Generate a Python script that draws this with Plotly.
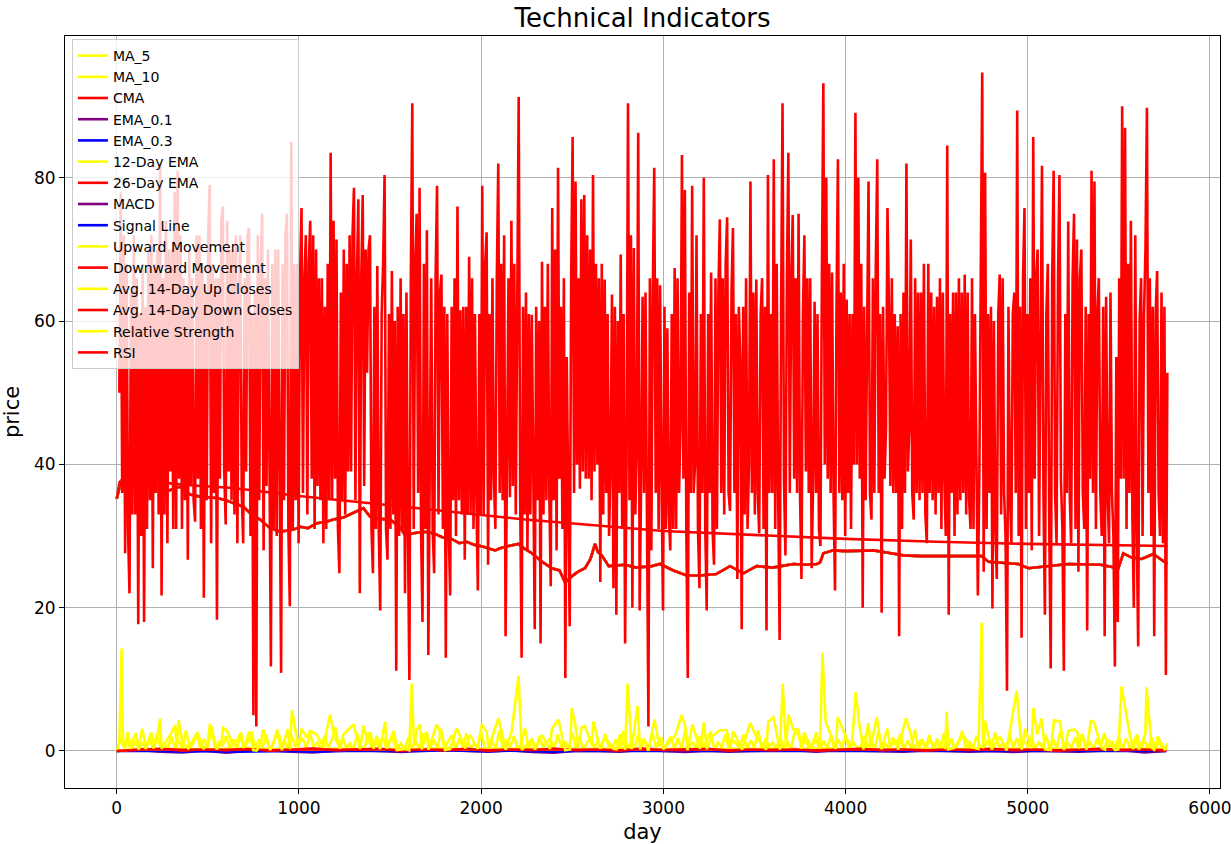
import plotly.graph_objects as go

# ---- price trend (moving averages / EMAs follow the same path) ----
trend_day = [0, 15, 30, 45, 80, 120, 183, 240, 292, 347, 402, 457, 549, 600, 640, 695, 740, 787,
             842, 896, 970, 1007, 1050, 1098, 1150, 1189, 1244, 1280, 1354, 1390, 1440, 1500,
             1555, 1583, 1628, 1690, 1738, 1790, 1830, 1880, 1921, 1960, 2012, 2077, 2104, 2150,
             2205, 2240, 2278, 2330, 2388, 2430, 2461, 2488, 2530, 2570, 2600, 2625, 2640, 2662,
             2700, 2790, 2850, 2936, 2982, 3055, 3128, 3200, 3290, 3366, 3439, 3512, 3600, 3714,
             3780, 3842, 3860, 3878, 3933, 4000, 4153, 4250, 4317, 4420, 4518, 4747, 4784, 4948,
             5003, 5100, 5223, 5400, 5497, 5524, 5570, 5625, 5689, 5766]
trend_val = [35.2, 36.8, 37.8, 38.0, 37.5, 37.2, 37.1, 36.5, 36.4, 36.9, 35.8, 35.5, 35.3, 35.0,
             34.6, 34.1, 33.0, 32.3, 31.1, 30.6, 30.9, 31.3, 31.1, 31.8, 32.0, 32.3, 32.6, 33.0,
             33.9, 32.7, 32.4, 32.3, 31.2, 30.1, 30.4, 30.6, 30.4, 29.8, 29.7, 29.0, 29.2, 28.8,
             28.5, 28.0, 28.3, 28.6, 28.9, 28.2, 27.6, 26.5, 25.5, 25.2, 23.5, 24.2, 25.0, 25.5,
             26.8, 28.9, 27.8, 27.3, 25.8, 26.0, 25.6, 25.8, 26.1, 25.2, 24.5, 24.5, 24.7, 25.8,
             24.8, 25.8, 25.6, 26.1, 26.0, 26.1, 26.3, 27.6, 28.0, 27.9, 28.0, 27.6, 27.3, 27.2,
             27.2, 27.2, 26.4, 26.1, 25.5, 25.8, 26.1, 26.0, 25.5, 27.6, 27.0, 26.8, 27.5, 26.1]

# ---- cumulative moving average ----
cma_day = [0, 15, 40, 80, 200, 400, 640, 1000, 1500, 2100, 2240, 3000, 3500, 4000, 4500, 5000, 5766]
cma_val = [35.2, 37.5, 38.2, 38.1, 37.6, 37.1, 36.7, 35.6, 34.3, 32.7, 32.3, 30.7, 30.1, 29.6,
           29.2, 28.9, 28.6]

# ---- small oscillators sampled on a coarse grid (every 120 days) ----
flow_day = list(range(0, 5761, 120))
macd = [0.0, 0.15, -0.1, -0.2, 0.05, -0.25, 0.0, 0.1, -0.1, -0.2, 0.05, 0.1, 0.0, -0.15, 0.05,
        0.15, 0.0, -0.1, 0.1, -0.15, -0.25, 0.05, 0.0, -0.1, 0.15, 0.0, -0.15, 0.05, -0.1, 0.0,
        0.05, 0.1, -0.1, 0.15, 0.05, 0.0, -0.1, 0.1, 0.0, -0.1, 0.0, -0.15, 0.05, 0.0, -0.1, 0.05,
        0.1, -0.2, 0.0]
signal_line = [0.0, 0.05, 0.0, -0.1, 0.0, -0.1, -0.05, 0.05, 0.0, -0.1, 0.0, 0.05, 0.0, -0.05,
               0.0, 0.1, 0.0, -0.05, 0.05, -0.05, -0.1, 0.0, 0.0, -0.05, 0.05, 0.0, -0.05, 0.0,
               -0.05, 0.0, 0.0, 0.05, 0.0, 0.05, 0.0, 0.0, -0.05, 0.05, 0.0, -0.05, 0.0, -0.05,
               0.0, 0.0, -0.05, 0.0, 0.05, -0.05, 0.0]
down_move = [0.0, 0.15, 0.3, 0.05, 0.25, 0.1, 0.3, 0.05, 0.2, 0.35, 0.1, 0.15, 0.3, 0.05, 0.25,
             0.1, 0.3, 0.05, 0.2, 0.15, 0.3, 0.1, 0.25, 0.05, 0.35, 0.15, 0.1, 0.3, 0.05, 0.2, 0.1,
             0.25, 0.05, 0.15, 0.3, 0.1, 0.2, 0.05, 0.25, 0.15, 0.3, 0.1, 0.2, 0.05, 0.15, 0.3, 0.1,
             0.2, 0.05]
avg_up = [0.0, 0.3, 0.25, 0.35, 0.2, 0.3, 0.4, 0.25, 0.3, 0.2, 0.35, 0.3, 0.2, 0.35, 0.25, 0.4,
          0.2, 0.3, 0.3, 0.35, 0.2, 0.3, 0.25, 0.4, 0.2, 0.3, 0.35, 0.2, 0.3, 0.25, 0.35, 0.2, 0.4,
          0.3, 0.3, 0.2, 0.25, 0.35, 0.2, 0.3, 0.25, 0.35, 0.2, 0.3, 0.25, 0.3, 0.2, 0.35, 0.25]
avg_down = [0.0, 0.2, 0.25, 0.15, 0.2, 0.15, 0.25, 0.1, 0.2, 0.25, 0.15, 0.15, 0.25, 0.1, 0.2,
            0.15, 0.25, 0.1, 0.2, 0.15, 0.25, 0.15, 0.2, 0.1, 0.25, 0.15, 0.15, 0.25, 0.1, 0.2,
            0.15, 0.2, 0.1, 0.15, 0.25, 0.15, 0.2, 0.1, 0.2, 0.15, 0.25, 0.15, 0.2, 0.1, 0.15, 0.25,
            0.15, 0.2, 0.1]

# ---- upward movement (every 20 days) ----
up_day = list(range(0, 5761, 20))
up_move = [
    0.0, 1.8, 0.4, 2.6, 0.3, 1.2, 0.6, 3.1, 0.5, 1.9, 0.2, 2.4, 0.6, 1.1, 0.3, 2.0, 0.4,
    1.5, 0.3, 2.9, 0.4, 1.1, 2.2, 0.3, 1.7, 0.5, 3.4, 0.2, 1.4, 0.7, 2.1, 0.3, 1.6, 0.5,
    2.0, 0.4, 1.3, 2.7, 0.3, 1.6, 0.5, 2.3, 0.2, 1.0, 3.0, 0.4, 1.5, 0.3, 2.2, 0.6, 1.2,
    1.8, 0.3, 2.5, 0.6, 1.2, 0.2, 2.1, 0.5, 1.5, 3.3, 0.3, 1.9, 0.4, 1.1, 0.2, 2.4, 0.5,
    0.4, 2.6, 0.2, 1.3, 0.6, 2.0, 0.3, 1.7, 2.8, 0.4, 1.1, 0.2, 1.9, 0.5, 1.4, 0.3, 2.3,
    2.4, 0.5, 1.6, 0.3, 3.1, 0.4, 1.4, 2.2, 0.2, 1.8, 0.5, 2.5, 0.3, 1.0, 0.6, 2.7, 0.4,
    0.3, 1.2, 0.4, 2.9, 0.2, 1.5, 0.6, 2.1, 0.3, 1.0, 3.2, 0.4, 1.6, 0.2, 2.0, 0.5, 1.3,
    1.7, 0.2, 2.3, 0.5, 1.3, 0.3, 2.6, 0.4, 1.9, 0.2, 1.1, 2.0, 0.4, 1.5, 0.3, 2.4, 0.6,
    0.5, 1.6, 0.3, 2.8, 0.4, 1.2, 0.2, 2.2, 0.6, 1.4, 0.3, 2.5, 0.5, 1.8, 0.2, 1.1, 2.0,
    0.4, 1.8, 0.2, 3.0, 0.5, 1.3, 0.3, 2.1, 0.4, 1.6, 2.7, 0.2, 1.2, 0.5, 2.3, 0.3, 1.5,
    1.0, 0.5, 2.3, 0.3, 1.5, 0.4, 2.9, 0.2, 1.7, 0.6, 1.2, 0.3, 2.0, 0.4, 1.4, 0.2, 2.6,
    2.4, 0.4, 1.9, 0.2, 1.1, 2.6, 0.3, 1.4, 0.5, 2.0, 0.2, 1.6, 0.4, 2.2, 0.3, 1.3, 0.6,
    0.3, 2.1, 0.5, 1.4, 0.2, 2.7, 0.4, 1.0, 0.3, 1.9, 0.6, 2.4, 0.2, 1.5, 0.4, 3.0, 0.3,
    1.6, 0.3, 2.2, 0.5, 1.2, 0.2, 2.5, 0.4, 1.7, 0.3, 1.1, 2.8, 0.4, 1.3, 0.5, 2.1, 0.2,
    0.4, 1.5, 0.3, 2.6, 0.5, 1.0, 0.2, 2.3, 0.4, 1.8, 0.3, 1.4, 0.6, 2.0, 0.2, 1.2, 0.5,
    2.2, 0.3, 1.6, 0.4, 2.9, 0.2, 1.1, 0.5, 1.9, 0.3, 2.4, 0.4, 1.3, 0.2, 1.7, 0.6, 2.5,
    0.3, 1.4, 0.5, 2.0, 0.2, 1.8, 0.4, 1.1, 2.3, 0.3, 1.5, 0.2, 1.9, 0.4, 1.2, 0.3, 0.6,
]

# ---- relative strength ----
rs_day = [14, 27, 34, 46, 58, 73, 88, 106, 119, 140, 160, 190, 201, 220, 238, 246, 270, 296, 321,
          329, 340, 360, 393, 420, 442, 476, 500, 512, 549, 575, 584, 605, 640, 660, 682, 695, 728,
          750, 768, 790, 803, 842, 870, 890, 906, 938, 951, 962, 997, 1015, 1040, 1061, 1098, 1134,
          1171, 1194, 1226, 1244, 1299, 1335, 1354, 1381, 1392, 1409, 1427, 1445, 1473, 1482, 1510,
          1537, 1583, 1605, 1619, 1632, 1647, 1665, 1674, 1702, 1711, 1756, 1784, 1802, 1830, 1866,
          1912, 1939, 1981, 2003, 2031, 2040, 2095, 2135, 2168, 2205, 2223, 2278, 2296, 2333, 2378,
          2388, 2424, 2461, 2488, 2497, 2515, 2534, 2552, 2570, 2607, 2616, 2653, 2680, 2726, 2744,
          2762, 2790, 2804, 2826, 2836, 2858, 2872, 2890, 2918, 2951, 2978, 2991, 3000, 3064, 3101,
          3119, 3132, 3159, 3201, 3223, 3238, 3265, 3311, 3348, 3366, 3384, 3432, 3476, 3512, 3564,
          3576, 3604, 3640, 3655, 3673, 3686, 3714, 3741, 3759, 3772, 3814, 3832, 3860, 3873, 3891,
          3924, 3946, 3957, 4006, 4034, 4056, 4074, 4098, 4125, 4138, 4171, 4198, 4229, 4244, 4281,
          4288, 4332, 4357, 4372, 4410, 4445, 4454, 4491, 4500, 4530, 4547, 4555, 4564, 4597, 4625,
          4652, 4683, 4729, 4747, 4755, 4765, 4802, 4848, 4884, 4939, 4967, 4985, 5021, 5031, 5052,
          5076, 5095, 5127, 5144, 5177, 5199, 5223, 5256, 5274, 5281, 5296, 5323, 5347, 5365, 5405,
          5424, 5433, 5479, 5497, 5515, 5530, 5561, 5579, 5592, 5610, 5645, 5652, 5680, 5694, 5713,
          5753, 5766]
rs_val = [1.0, 14.3, 1.5, 0.4, 2.2, 0.3, 1.5, 2.5, 0.2, 1.2, 0.3, 2.6, 0.35, 1.5, 4.5, 0.3, 1.3,
          2.3, 3.6, 0.45, 4.3, 1.2, 0.35, 1.6, 2.6, 0.27, 1.1, 3.8, 0.22, 1.4, 3.2, 2.8, 0.7, 1.5,
          2.6, 0.4, 2.7, 0.1, 0.05, 1.0, 3.0, 0.13, 1.8, 2.3, 0.12, 3.0, 0.25, 5.7, 0.5, 3.1, 1.9,
          2.8, 2.3, 0.5, 5.1, 2.1, 0.33, 2.3, 3.7, 0.28, 3.5, 1.1, 2.6, 0.33, 2.1, 0.24, 4.1, 0.36,
          2.0, 0.13, 0.28, 0.11, 9.4, 0.7, 3.0, 3.7, 0.22, 2.7, 0.15, 3.7, 2.0, 0.15, 0.28, 3.2,
          0.36, 2.2, 0.29, 3.7, 2.6, 0.35, 4.6, 0.19, 2.8, 10.5, 0.15, 1.6, 0.2, 2.2, 0.3, 3.1, 4.4,
          0.11, 0.21, 6.0, 3.9, 0.58, 3.3, 3.5, 0.8, 4.1, 0.31, 1.9, 0.29, 0.23, 2.3, 0.18, 9.4,
          0.25, 2.4, 6.3, 0.24, 1.7, 0.04, 4.4, 0.67, 1.9, 0.24, 2.1, 5.0, 3.6, 0.11, 3.7, 0.29,
          4.0, 0.24, 2.0, 2.9, 2.9, 0.5, 2.7, 0.2, 3.9, 1.9, 0.2, 4.1, 4.7, 0.18, 9.4, 0.38, 5.1,
          3.0, 3.0, 0.32, 2.6, 0.34, 1.7, 0.4, 13.7, 4.0, 2.0, 0.29, 4.7, 1.7, 0.67, 8.2, 4.0,
          0.25, 3.9, 0.48, 4.7, 0.24, 3.1, 0.6, 1.5, 0.19, 4.6, 2.5, 0.48, 1.4, 0.52, 1.6, 0.5,
          1.7, 0.7, 0.43, 5.5, 0.23, 0.43, 1.5, 2.0, 0.56, 0.28, 17.9, 0.33, 4.2, 0.25, 2.0, 0.09,
          8.4, 0.19, 3.1, 0.39, 6.0, 2.3, 4.5, 0.23, 0.13, 4.3, 4.1, 0.13, 2.8, 3.0, 2.5, 0.33,
          2.3, 0.2, 4.3, 3.9, 0.43, 0.19, 1.7, 0.13, 0.22, 9.0, 6.7, 2.1, 0.25, 1.9, 0.17, 2.3,
          8.9, 0.43, 0.19, 2.0, 0.12, 1.1]

# ---- RSI, one reading every 8 days from day 14 ----
rsi_day = list(range(14, 5767, 8))
rsi_val = [
    50, 78, 36, 72, 27.6, 68, 31, 22, 64, 33,
    72, 33, 66, 17.7, 61, 30, 68, 18, 62, 31,
    70, 35, 72, 25.5, 68, 36, 70, 33, 82, 21.7,
    66, 33, 74, 29, 70, 39, 70, 31, 78, 31,
    81, 38, 72, 31, 66, 35, 64, 26.7, 70, 37,
    66, 35, 32, 72, 38, 72, 31, 68, 21.4, 64,
    35, 72, 79, 29, 68, 36, 66, 18.3, 66, 38,
    74, 76, 39, 31.6, 74, 39, 70, 35, 70, 33,
    72, 29, 62, 72, 36, 29, 66, 39, 72, 73,
    30, 61, 5, 64, 3.4, 72, 35, 68, 75, 28,
    66, 37, 70, 31, 11.8, 68, 31, 70, 30, 70,
    39, 10.9, 68, 35, 72, 75, 31, 20.2, 85, 31,
    68, 35, 68, 29, 66, 75.8, 36, 66, 72, 33,
    68, 74, 38, 72, 31, 70, 37, 66, 35, 66,
    29, 62, 31, 68, 35, 83.5, 35, 74, 38, 71.4,
    31, 24.8, 64, 35, 70, 33, 68, 39, 72, 39,
    72, 78.6, 35, 66, 77, 22, 66, 77.6, 37, 70,
    52.8, 70, 72, 31, 24.8, 62, 31, 67.7, 31, 19.6,
    61, 68, 80.4, 31, 26.7, 61, 31, 67, 33, 60,
    11.2, 62, 30, 66, 31, 61, 22, 64, 31, 9.9,
    66, 90.4, 31, 68, 75, 36, 78.6, 31, 18, 68,
    31, 72.7, 13.4, 38, 66, 31, 24.8, 66, 78.9, 33,
    64, 66.5, 31, 62, 13, 61, 31, 21.7, 62, 35,
    66, 30, 76, 35, 61.5, 33, 62, 26.7, 62, 33,
    69, 33, 66, 31, 61, 35, 22.4, 61, 33, 78.9,
    33, 68, 72.4, 26, 61, 35, 66, 38, 31, 66,
    82, 36, 68, 35, 72, 16, 38, 66, 35.4, 74,
    37, 68, 33, 68, 91.3, 36, 13, 62, 33, 64,
    28, 61, 33, 60.9, 33, 17, 62, 35, 60, 15,
    68.3, 33, 62, 35, 68, 36, 23, 75.8, 35, 70,
    28, 81.4, 38, 62, 31, 66, 10.2, 55, 35, 17.4,
    66, 85.7, 36, 79.5, 40, 66, 36.6, 77, 39, 77.6,
    38, 72, 38, 70, 35, 80.4, 39, 68, 40, 66,
    23.6, 68, 33, 65.8, 36, 61, 30, 40, 63.7, 22.7,
    62, 19, 60, 36, 69.3, 31, 61, 15, 40, 90.4,
    35, 72, 20, 70.2, 33, 42, 86.3, 19.6, 38, 63.4,
    36, 64, 33, 3.4, 66, 28, 64, 81.4, 36, 66,
    31, 65, 38, 19.6, 62, 31, 59, 33, 28, 61,
    31, 67.4, 31, 66, 36, 45, 83.2, 38, 78.3, 31,
    10.2, 64, 36, 78.9, 36, 40, 72, 31, 22.7, 61,
    36, 80, 31, 19.6, 61, 36, 66.8, 31, 26, 66,
    31, 64, 74.2, 36, 66, 33, 68, 74.5, 36, 33.5,
    64, 73, 36, 61, 24, 62, 54.7, 17, 62, 33,
    66, 31, 40, 79.5, 36, 64, 33, 65.8, 36, 30.4,
    61, 66, 31, 62, 16.8, 80.4, 36, 61, 36, 82.6,
    31, 68, 36, 15.5, 61, 90.4, 38, 27.3, 66, 83.5,
    36, 66, 74.8, 38, 66, 36, 75, 36, 24, 61,
    72, 39, 66, 36, 66, 25.5, 38, 62.7, 36, 61,
    31, 28.6, 66, 93.2, 40, 80, 38, 68, 36, 66.8,
    36, 22.4, 61, 82.6, 36, 64, 35, 68, 30, 63,
    36, 61, 31, 61, 40, 89.1, 40, 80, 38, 68,
    20, 62, 35, 64, 79.5, 36, 32.3, 66, 36, 68,
    82.6, 36, 61, 19.3, 62, 38, 45, 75.8, 62, 37,
    66, 36, 61, 36, 59.3, 16, 61, 31, 64, 36,
    82, 39, 45, 71.4, 36, 32.3, 66, 36, 64, 35,
    64, 36, 68, 33, 29, 68, 36, 64, 35, 62,
    33, 63.4, 36, 66, 31, 64, 38, 30, 84.5, 19,
    61, 36, 64, 30, 64, 33, 66, 35, 64, 36,
    66.5, 33, 64, 35, 31, 66, 31, 61, 36, 21.7,
    38, 66, 94.7, 25, 80.7, 31, 61, 36, 62, 19.9,
    60, 31, 24, 61, 66.5, 33, 66, 36, 30, 8.4,
    62, 36, 29, 61, 64, 36, 89.4, 30, 62, 15.8,
    66, 75.8, 31, 61, 36, 66, 28, 85.7, 38, 66,
    70, 30, 61, 81.7, 36, 19, 61, 68, 31, 11.5,
    66, 81, 36, 29, 66, 80.4, 38, 31, 11.2, 61,
    36, 73.9, 36, 29, 66, 75, 31, 71.4, 25, 66,
    70, 36, 31, 62, 16.8, 61, 38, 81, 36, 79.5,
    31, 61, 66, 36, 30, 62, 16, 63.4, 36, 29,
    64, 36, 30, 11.8, 55, 18, 66, 38, 90, 38,
    87, 31, 68, 36, 74, 33, 20, 72, 31, 14.6,
    60, 66, 30, 61, 70, 89.8, 36, 66, 30, 62,
    16, 61, 67, 36, 30, 64, 29, 62, 10.6, 52.8,
]

YELLOW, RED, PURPLE, BLUE = "#ffff00", "#ff0000", "#800080", "#0000ff"

series = [
    ("MA_5", YELLOW, trend_day, trend_val),
    ("MA_10", YELLOW, trend_day, trend_val),
    ("CMA", RED, cma_day, cma_val),
    ("EMA_0.1", PURPLE, trend_day, trend_val),
    ("EMA_0.3", BLUE, trend_day, trend_val),
    ("12-Day EMA", YELLOW, trend_day, trend_val),
    ("26-Day EMA", RED, trend_day, trend_val),
    ("MACD", PURPLE, flow_day, macd),
    ("Signal Line", BLUE, flow_day, signal_line),
    ("Upward Movement", YELLOW, up_day, up_move),
    ("Downward Movement", RED, flow_day, down_move),
    ("Avg. 14-Day Up Closes", YELLOW, flow_day, avg_up),
    ("Avg. 14-Day Down Closes", RED, flow_day, avg_down),
    ("Relative Strength", YELLOW, rs_day, rs_val),
    ("RSI", RED, rsi_day, rsi_val),
]

fig = go.Figure()
for name, color, xs, ys in series:
    fig.add_trace(go.Scatter(x=xs, y=ys, mode="lines", name=name,
                             line=dict(color=color, width=2.6)))

FONT = "DejaVu Sans"
axis_common = dict(showline=True, linecolor="black", linewidth=1, mirror=True,
                   ticks="outside", ticklen=5, tickcolor="black", tickwidth=1,
                   showgrid=True, gridcolor="#b0b0b0", gridwidth=1, zeroline=False,
                   automargin=False,
                   tickfont=dict(family=FONT, size=17, color="black"))

fig.update_layout(
    width=1231, height=844,
    margin=dict(l=65, r=11, t=36, b=56),
    paper_bgcolor="white", plot_bgcolor="white",
    font=dict(family=FONT, color="black"),
    title=dict(text="Technical Indicators", x=0.5, xref="paper", y=1 - 18 / 844,
               yref="container", xanchor="center", yanchor="middle",
               font=dict(family=FONT, size=26, color="black")),
    xaxis=dict(range=[-284, 6055], tickvals=[0, 1000, 2000, 3000, 4000, 5000, 6000],
               ticklabeloverflow="allow",
               title=dict(text="day", font=dict(family=FONT, size=21), standoff=6),
               **axis_common),
    yaxis=dict(range=[-5.17, 99.8], tickvals=[0, 20, 40, 60, 80],
               title=dict(text="price", font=dict(family=FONT, size=21), standoff=10),
               **axis_common),
    legend=dict(x=0.006, y=0.996, xanchor="left", yanchor="top",
                bgcolor="rgba(255,255,255,0.8)", bordercolor="#cccccc", borderwidth=1,
                font=dict(family=FONT, size=14, color="black"), traceorder="normal"),
    showlegend=True,
)

fig.write_html("out.html")
